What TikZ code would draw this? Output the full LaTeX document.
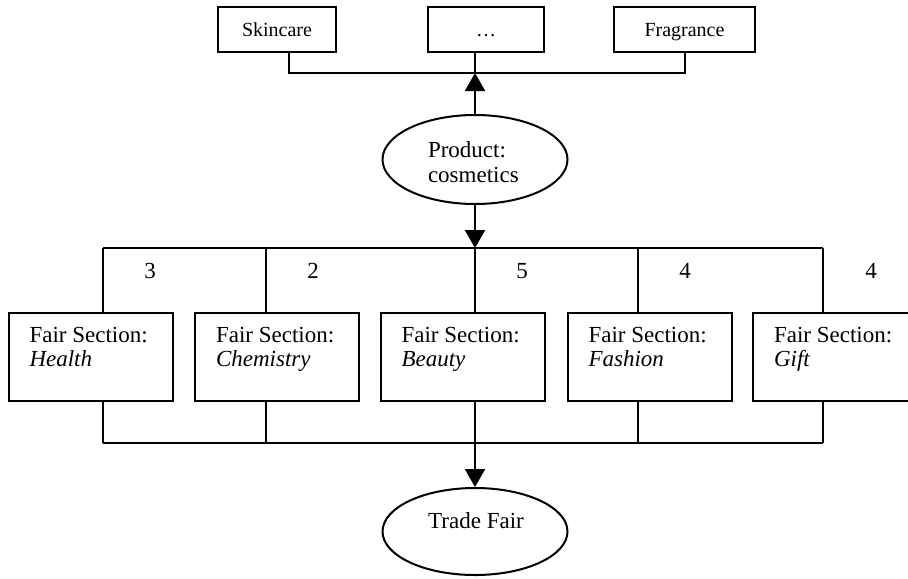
\documentclass[tikz,border=0pt]{standalone}
\usepackage{fontspec}
\setmainfont{Liberation Serif}
\usetikzlibrary{arrows.meta,calc,shapes.geometric}
\begin{document}
\begin{tikzpicture}[x=0.5pt,y=-0.5pt,
  line width=1pt,
  arr/.style={-{Triangle[length=9pt,width=10pt]}},
  topbox/.style={draw,rectangle,minimum height=22.5pt,inner sep=0pt,text height=8pt,text depth=1pt,font=\fontsize{10}{12}\selectfont},
  fairbox/.style={draw,rectangle,minimum width=82pt,minimum height=44pt,inner sep=0pt},
  fairtxt/.style={anchor=base west,align=left,inner sep=0pt,font=\fontsize{11.5}{12}\selectfont},
  oval/.style={draw,ellipse,minimum width=92.5pt,minimum height=44.5pt,inner sep=0pt},
  ovaltxt/.style={inner sep=0pt,align=left,font=\fontsize{11.5}{12.5}\selectfont},
  num/.style={font=\fontsize{11.5}{12}\selectfont,inner sep=0pt}
]
\useasboundingbox (0,0) rectangle (908,578);

% top boxes
\node[topbox,minimum width=59pt] (skin) at (277,29.5) {Skincare};
\node[topbox,minimum width=58pt] (dots) at (486,29.5) {\dots};
\node[topbox,minimum width=70.5pt] (frag) at (684.5,29.5) {Fragrance};

\coordinate (hub) at (475,73);
\draw ($(skin.south)+(12,0)$) |- (frag.south |- hub) -- (frag.south);
\draw (dots.south -| hub) -- (hub);

% product ellipse
\node[oval] (prod) at (475,159.5) {};
\node[ovaltxt,anchor=base west] (prodtxt) at (427,182) {Product:\\cosmetics};
\draw[arr] (prod.north) -- (hub);

% fair sections
\node[fairbox] (health) at (90.5,357) {};
\node[fairbox] (chem) at (277,357) {};
\node[fairbox] (beauty) at (462.5,357) {};
\node[fairbox] (fashion) at (649.5,357) {};
\node[fairbox,minimum width=78.5pt] (gift) at (831.5,357) {};

\node[fairtxt] (healthtxt) at ($(health.north west)+(21,54)$) {Fair Section:\\\textit{Health}};
\node[fairtxt] (chemtxt) at ($(chem.north west)+(21,54)$) {Fair Section:\\\textit{Chemistry}};
\node[fairtxt] (beautytxt) at ($(beauty.north west)+(21,54)$) {Fair Section:\\\textit{Beauty}};
\node[fairtxt] (fashiontxt) at ($(fashion.north west)+(21,54)$) {Fair Section:\\\textit{Fashion}};
\node[fairtxt] (gifttxt) at ($(gift.north west)+(21,54)$) {Fair Section:\\\textit{Gift}};

% top distribution line
\coordinate (t1) at (103,248);
\coordinate (t2) at (266,248);
\coordinate (t3) at (475,248);
\coordinate (t4) at (638,248);
\coordinate (t5) at (823,248);
\draw[arr] (prod.south) -- (t3);
\draw (t1) -- (t5);
\draw (t1) -- (t1 |- health.north);
\draw (t2) -- (t2 |- chem.north);
\draw (t3) -- (t3 |- beauty.north);
\draw (t4) -- (t4 |- fashion.north);
\draw (t5) -- (t5 |- gift.north);

% numbers
\node[num] (n1) at (150,271) {3};
\node[num] (n2) at (313,271) {2};
\node[num] (n3) at (522,271) {5};
\node[num] (n4) at (685,271) {4};
\node[num] (n5) at (871,271) {4};

% bottom collection line
\coordinate (b1) at (103,443);
\coordinate (b2) at (266,443);
\coordinate (b3) at (475,443);
\coordinate (b4) at (638,443);
\coordinate (b5) at (823,443);
\draw (b1) -- (b5);
\draw (b1 |- health.south) -- (b1);
\draw (b2 |- chem.south) -- (b2);
\draw (b3 |- beauty.south) -- (b3);
\draw (b4 |- fashion.south) -- (b4);
\draw (b5 |- gift.south) -- (b5);

% trade fair
\node[oval,minimum height=43.5pt] (trade) at (475,531.5) {};
\node[ovaltxt] (tradetxt) at (476,521) {Trade Fair};
\draw[arr] (b3) -- (trade.north);
\end{tikzpicture}
\end{document}
